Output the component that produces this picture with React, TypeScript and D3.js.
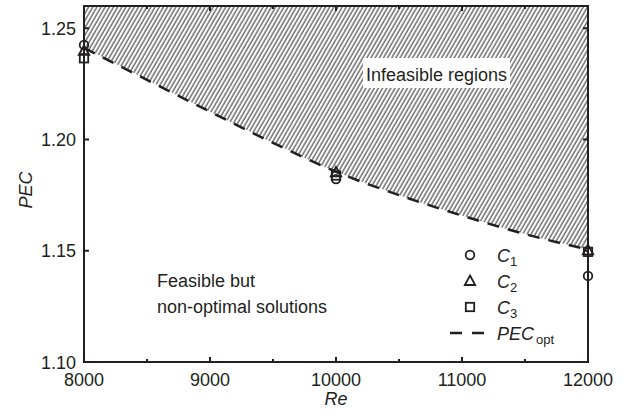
import React from "react";
import * as d3 from "d3";

const reValues = [8000, 10000, 12000];
const c1Values = [1.2425, 1.1822, 1.1387];
const c2Values = [1.2398, 1.1852, 1.1502];
const c3Values = [1.2365, 1.1838, 1.1495];

const optRe = [8000, 8500, 9000, 9500, 10000, 10500, 11000, 11500, 12000];
const optPec = [1.2412, 1.2268, 1.2125, 1.1985, 1.1855, 1.175, 1.1658, 1.1575, 1.1505];

const xMajorTicks = [8000, 9000, 10000, 11000, 12000];
const xMinorTicks = [8500, 9500, 10500, 11500];
const yMajorTicks = [1.1, 1.15, 1.2, 1.25];

const INK = "#231f20";
const FONT = "Liberation Sans, Arial, sans-serif";

export default function App() {
  const x = d3.scaleLinear().domain([8000, 12000]).range([84, 588]);
  const y = d3.scaleLinear().domain([1.1, 1.26]).range([362, 6]);
  const [x0, x1] = x.range();
  const [y0, y1] = y.range();

  const pts: [number, number][] = optRe.map((r, i) => [r, optPec[i]]);
  const line = d3
    .line<[number, number]>()
    .x((d) => x(d[0]))
    .y((d) => y(d[1]))
    .curve(d3.curveMonotoneX);
  const area = d3
    .area<[number, number]>()
    .x((d) => x(d[0]))
    .y0(() => y(1.26))
    .y1((d) => y(d[1]))
    .curve(d3.curveMonotoneX);

  const circle = (cx: number, cy: number, key: string) => (
    <circle key={key} cx={cx} cy={cy} r={4.3} fill="none" stroke={INK} strokeWidth={1.8} />
  );
  const tri = (cx: number, cy: number, key: string) => (
    <path
      key={key}
      d={`M${cx},${cy - 5.5} L${cx + 5.2},${cy + 4} L${cx - 5.2},${cy + 4} Z`}
      fill="none"
      stroke={INK}
      strokeWidth={1.8}
      strokeLinejoin="miter"
    />
  );
  const sq = (cx: number, cy: number, key: string) => (
    <rect key={key} x={cx - 4.2} y={cy - 4.2} width={8.4} height={8.4} fill="none" stroke={INK} strokeWidth={1.8} />
  );

  return (
    <svg
      width={624}
      height={416}
      style={{ position: "absolute", left: 0, top: 0, background: "#fff" }}
      fontFamily={FONT}
    >
      <defs>
        <pattern id="hatch" width={3.6} height={10} patternUnits="userSpaceOnUse" patternTransform="rotate(30)">
          <line x1={1} y1={-1} x2={1} y2={11} stroke="#1e1e1e" strokeWidth={0.95} />
        </pattern>
        <clipPath id="plotclip">
          <rect x={x0} y={y1} width={x1 - x0} height={y0 - y1} />
        </clipPath>
      </defs>
      <rect x={0} y={0} width={624} height={416} fill="#fff" />

      <g clipPath="url(#plotclip)">
        <path d={area(pts) || ""} fill="url(#hatch)" />
      </g>

      <rect x={363} y={58} width={147} height={30} fill="#fff" />
      <text x={366} y={81} fontSize={18} fill={INK}>
        Infeasible regions
      </text>

      <path d={line(pts) || ""} fill="none" stroke={INK} strokeWidth={2.5} strokeDasharray="12,9" />

      {reValues.map((r, i) => circle(x(r), y(c1Values[i]), "c1" + i))}
      {reValues.map((r, i) => tri(x(r), y(c2Values[i]), "c2" + i))}
      {reValues.map((r, i) => sq(x(r), y(c3Values[i]), "c3" + i))}

      {/* frame */}
      <rect x={x0} y={y1} width={x1 - x0} height={y0 - y1} fill="none" stroke={INK} strokeWidth={2} />

      {/* ticks */}
      {xMajorTicks.map((t) => (
        <g key={"xm" + t}>
          <line x1={x(t)} x2={x(t)} y1={y0} y2={y0 - 5} stroke={INK} strokeWidth={2} />
          <line x1={x(t)} x2={x(t)} y1={y1} y2={y1 + 5} stroke={INK} strokeWidth={2} />
          <text x={x(t)} y={386} fontSize={18} textAnchor="middle" fill={INK}>
            {t}
          </text>
        </g>
      ))}
      {xMinorTicks.map((t) => (
        <g key={"xn" + t}>
          <line x1={x(t)} x2={x(t)} y1={y0} y2={y0 - 3} stroke={INK} strokeWidth={2} />
          <line x1={x(t)} x2={x(t)} y1={y1} y2={y1 + 3} stroke={INK} strokeWidth={2} />
        </g>
      ))}
      {yMajorTicks.map((t) => (
        <g key={"ym" + t}>
          <line x1={x0} x2={x0 + 5} y1={y(t)} y2={y(t)} stroke={INK} strokeWidth={2} />
          <line x1={x1} x2={x1 - 5} y1={y(t)} y2={y(t)} stroke={INK} strokeWidth={2} />
          <text x={76} y={y(t) + 6.5} fontSize={18} textAnchor="end" fill={INK}>
            {d3.format(".2f")(t)}
          </text>
        </g>
      ))}

      {/* axis titles */}
      <text x={336} y={405} fontSize={18} fontStyle="italic" textAnchor="middle" fill={INK}>
        Re
      </text>
      <text
        transform="translate(32,190) rotate(-90)"
        fontSize={18}
        fontStyle="italic"
        textAnchor="middle"
        fill={INK}
      >
        PEC
      </text>

      {/* annotation */}
      <text x={157} y={287} fontSize={18} fill={INK}>
        Feasible but
      </text>
      <text x={157} y={313} fontSize={18} fill={INK}>
        non-optimal solutions
      </text>

      {/* legend */}
      {circle(470, 255, "lg1")}
      {tri(470, 281, "lg2")}
      {sq(470, 307, "lg3")}
      <line x1={450} x2={484} y1={333} y2={333} stroke={INK} strokeWidth={2.5} strokeDasharray="12,10" />
      <text x={497} y={262} fontSize={18} fill={INK}>
        <tspan fontStyle="italic">C</tspan>
        <tspan fontSize={13} dy={4}>1</tspan>
      </text>
      <text x={497} y={288} fontSize={18} fill={INK}>
        <tspan fontStyle="italic">C</tspan>
        <tspan fontSize={13} dy={4}>2</tspan>
      </text>
      <text x={497} y={314} fontSize={18} fill={INK}>
        <tspan fontStyle="italic">C</tspan>
        <tspan fontSize={13} dy={4}>3</tspan>
      </text>
      <text x={497} y={340} fontSize={18} fill={INK}>
        <tspan fontStyle="italic">PEC</tspan>
        <tspan fontSize={13} dx={2} dy={4}>opt</tspan>
      </text>
    </svg>
  );
}
